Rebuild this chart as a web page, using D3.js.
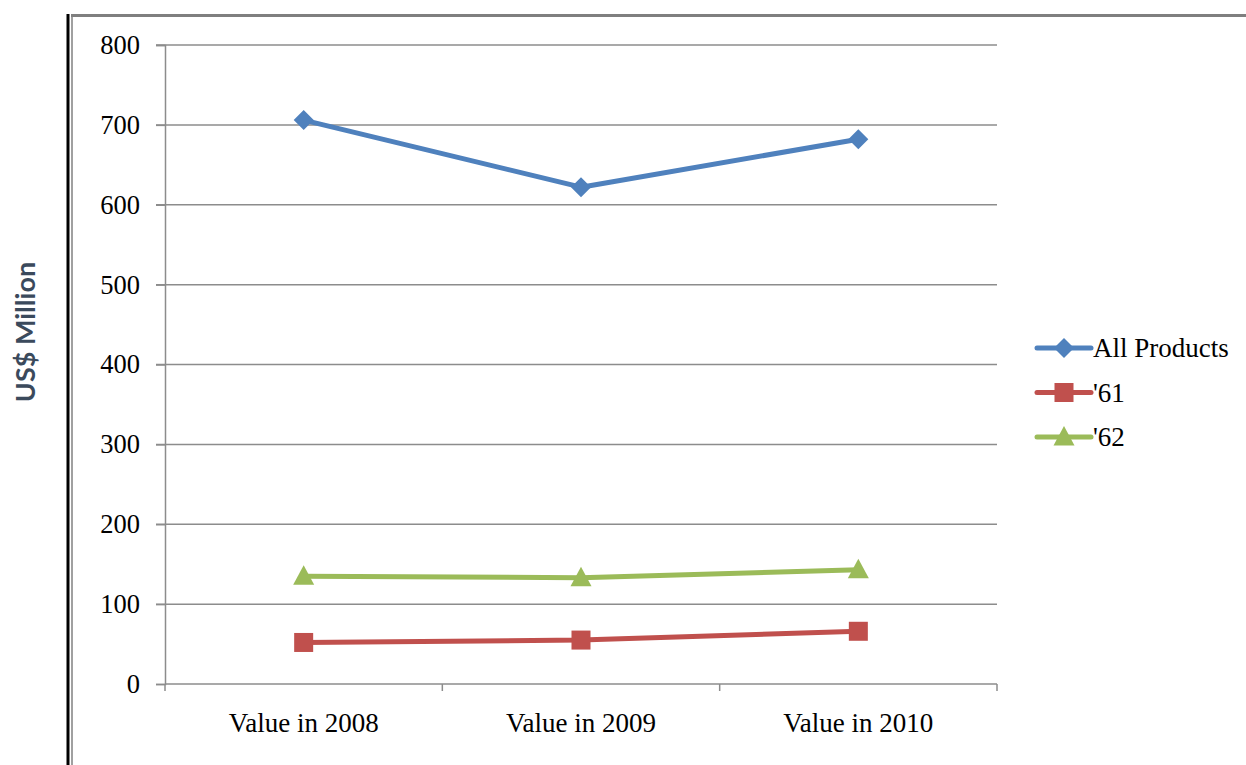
<!DOCTYPE html>
<html><head><meta charset="utf-8">
<script src="https://cdn.jsdelivr.net/npm/d3@7"></script>
<style>body{margin:0;background:#fff}svg{display:block}</style>
</head><body>
<script>
const categories = ["Value in 2008", "Value in 2009", "Value in 2010"];
const seriesNames = ["All Products", "'61", "'62"];
const allProducts = [706, 622, 682];
const s61 = [52, 55, 66];
const s62 = [135, 133, 143];
const yTicks = [0, 100, 200, 300, 400, 500, 600, 700, 800];
const colors = ["#4F81BD", "#C0504D", "#9BBB59"];
const shapes = ["diamond", "square", "triangle"];
const series = [allProducts, s61, s62];

const W = 1246, H = 765;
const svg = d3.select("body").append("svg").attr("width", W).attr("height", H);

// frame
svg.append("line").attr("x1", 68).attr("x2", 68).attr("y1", 14).attr("y2", H).attr("stroke", "#000").attr("stroke-width", 3);
svg.append("line").attr("x1", 72).attr("x2", 72).attr("y1", 15).attr("y2", H).attr("stroke", "#808080").attr("stroke-width", 1.5);
svg.append("line").attr("x1", 71).attr("x2", W).attr("y1", 15.5).attr("y2", 15.5).attr("stroke", "#7f7f7f").attr("stroke-width", 3);

const x0 = 165, x1 = 997, yTop = 45, yBot = 684;
const x = d3.scaleBand().domain(categories).range([x0, x1]);
const y = d3.scaleLinear().domain([0, 800]).range([yBot, yTop]);

const font = "'Liberation Serif', 'Times New Roman', serif";

// gridlines
svg.append("g").selectAll("line").data(yTicks.slice(1)).join("line")
  .attr("x1", x0 - 9).attr("x2", x1).attr("y1", d => y(d)).attr("y2", d => y(d))
  .attr("stroke", "#8c8c8c").attr("stroke-width", 1.5);

// y axis
const yAxis = svg.append("g").attr("transform", `translate(${x0},0)`)
  .call(d3.axisLeft(y).tickValues(yTicks).tickSize(9).tickPadding(16).tickFormat(d3.format("d")));
yAxis.select(".domain").attr("stroke", "#8c8c8c").attr("stroke-width", 1.5);
yAxis.selectAll(".tick line").attr("stroke", "#8c8c8c").attr("stroke-width", 1.5);
yAxis.selectAll("text").attr("font-family", font).attr("font-size", 26.5).attr("fill", "#000");

// x axis
const xAxis = svg.append("g").attr("transform", `translate(0,${yBot})`)
  .call(d3.axisBottom(x).tickSize(0).tickPadding(29));
xAxis.select(".domain").remove();
xAxis.selectAll("text").attr("font-family", font).attr("font-size", 27).attr("fill", "#000");
svg.append("line").attr("x1", x0).attr("x2", x1).attr("y1", yBot).attr("y2", yBot).attr("stroke", "#8c8c8c").attr("stroke-width", 1.5);
const bounds = [x0, ...categories.map(c => x(c) + x.bandwidth())];
svg.append("g").selectAll("line").data(bounds).join("line")
  .attr("x1", d => d).attr("x2", d => d).attr("y1", yBot).attr("y2", yBot + 7)
  .attr("stroke", "#8c8c8c").attr("stroke-width", 1.5);

// y title
svg.append("text").attr("transform", "translate(35,332) rotate(-90)")
  .attr("text-anchor", "middle").attr("font-family", "Lato, 'Open Sans', sans-serif")
  .attr("font-size", 27).attr("font-weight", "bold").attr("fill", "#3b4a5c").text("US$ Million");

function marker(sel, shape, color) {
  if (shape === "diamond") {
    sel.append("path").attr("d", "M0,-10L10,0L0,10L-10,0Z").attr("fill", color);
  } else if (shape === "square") {
    sel.append("rect").attr("x", -9.5).attr("y", -9.5).attr("width", 19).attr("height", 19).attr("fill", color);
  } else {
    sel.append("path").attr("d", "M0,-11L10.5,8.5L-10.5,8.5Z").attr("fill", color);
  }
}

const line = d3.line().x((d, i) => x(categories[i]) + x.bandwidth() / 2).y(d => y(d));
series.forEach((vals, si) => {
  svg.append("path").datum(vals).attr("d", line).attr("fill", "none")
    .attr("stroke", colors[si]).attr("stroke-width", 5).attr("stroke-linejoin", "round");
  vals.forEach((v, i) => {
    const g = svg.append("g").attr("transform", `translate(${x(categories[i]) + x.bandwidth() / 2},${y(v)})`);
    marker(g, shapes[si], colors[si]);
  });
});

// legend
const legendY = d3.scaleLinear().domain([0, 2]).range([348, 437]);
seriesNames.forEach((name, si) => {
  const ly = legendY(si);
  svg.append("line").attr("x1", 1037).attr("x2", 1091).attr("y1", ly).attr("y2", ly)
    .attr("stroke", colors[si]).attr("stroke-width", 5).attr("stroke-linecap", "round");
  const g = svg.append("g").attr("transform", `translate(1064,${ly})`);
  marker(g, shapes[si], colors[si]);
  svg.append("text").attr("x", 1093).attr("y", ly).attr("dy", "0.35em")
    .attr("font-family", font).attr("font-size", 27).attr("fill", "#000").text(name);
});
</script>
</body></html>
